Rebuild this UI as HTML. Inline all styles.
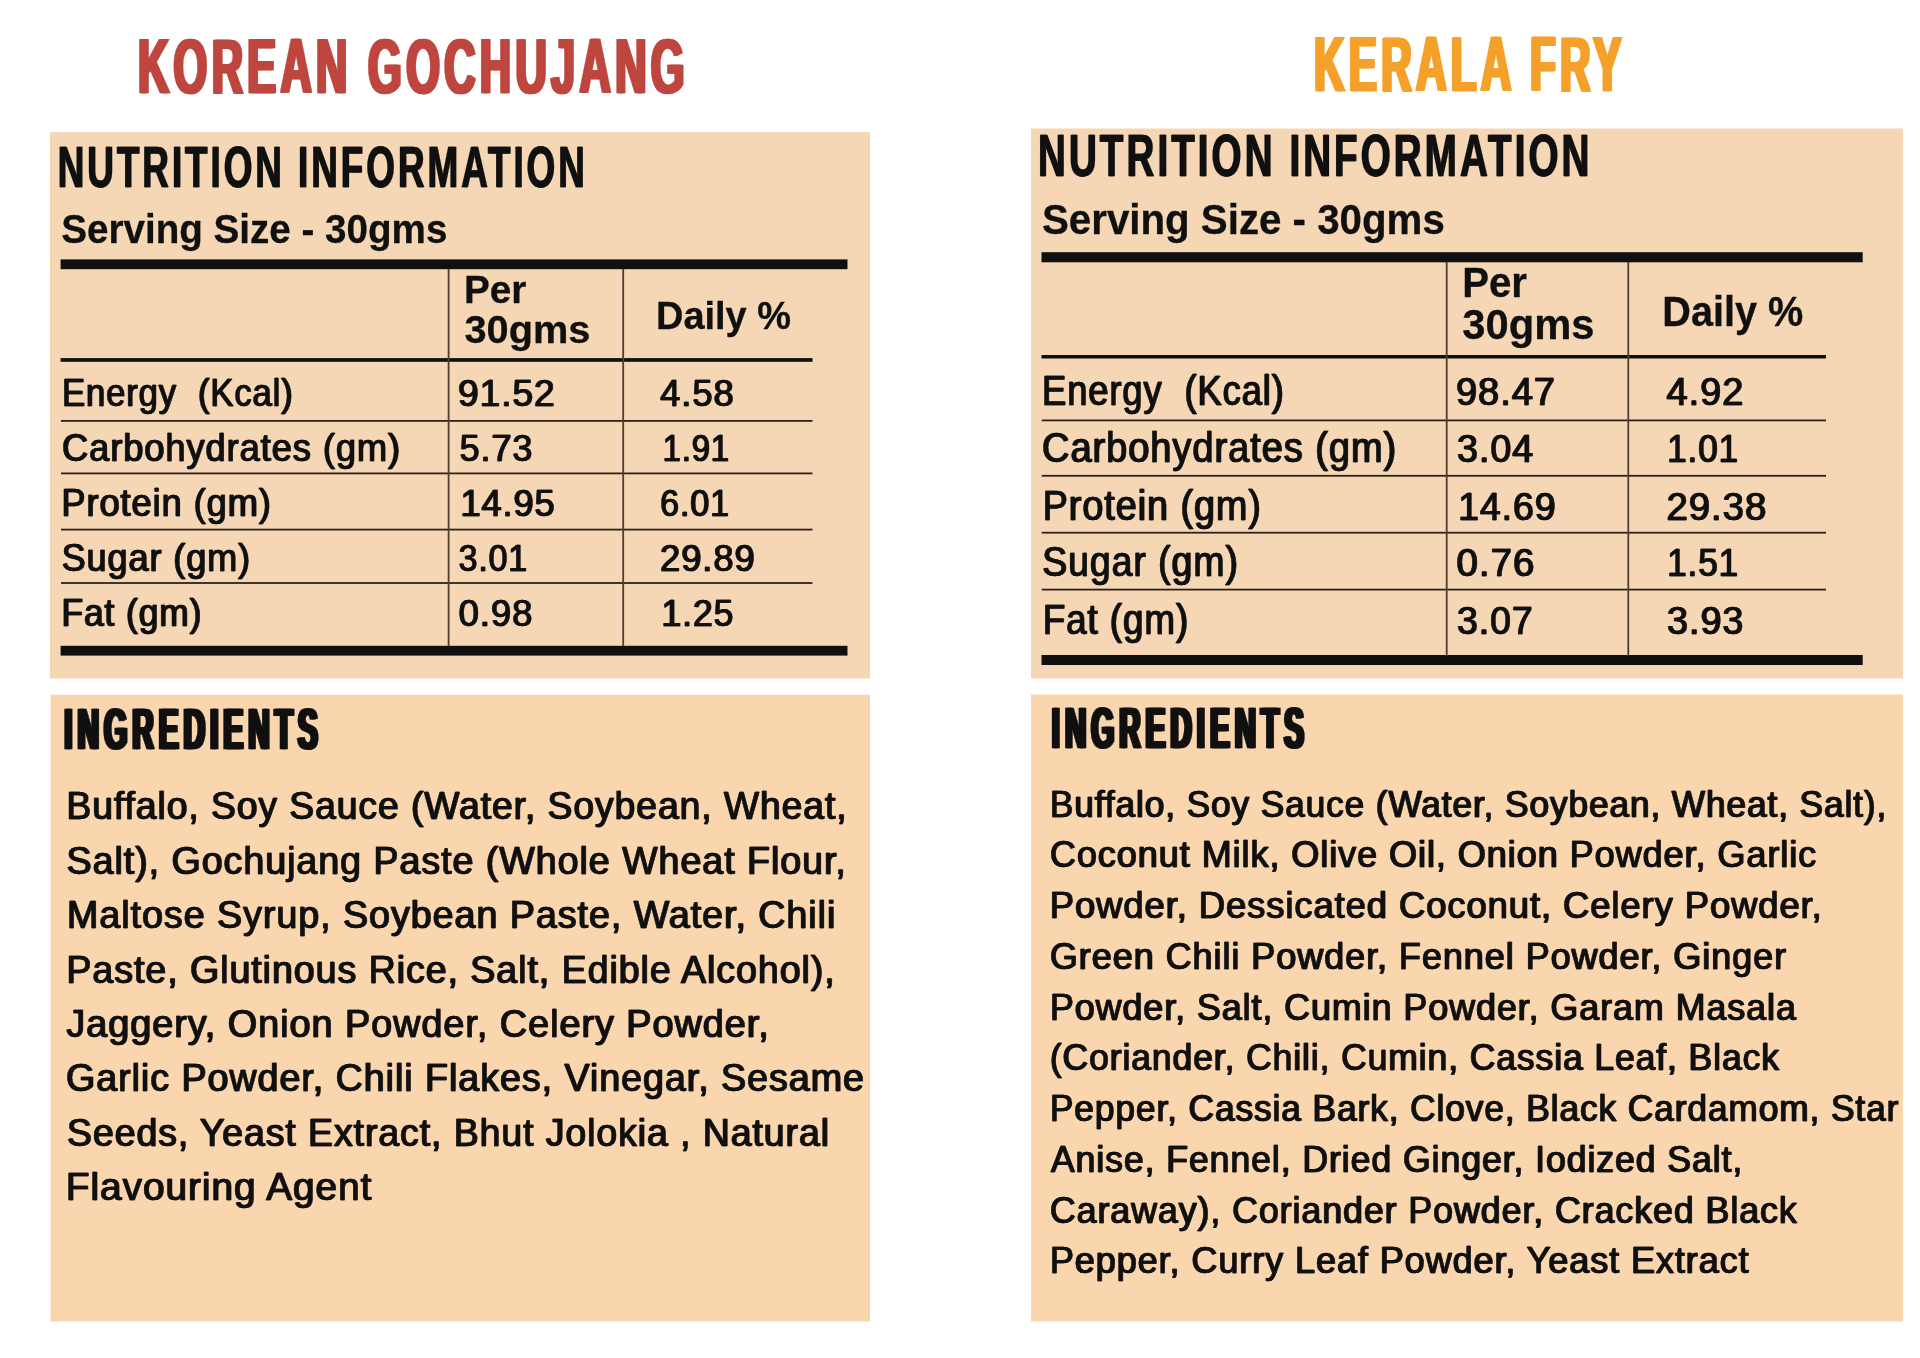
<!DOCTYPE html>
<html><head><meta charset="utf-8"><title>Nutrition</title>
<style>
html,body{margin:0;padding:0;background:#fff;}
body{width:1920px;height:1358px;overflow:hidden;position:relative;}
svg{position:absolute;left:0;top:0;will-change:transform;}
text{font-family:"Liberation Sans",sans-serif;}
</style></head>
<body>
<svg width="1920" height="1358" viewBox="0 0 1920 1358">

<rect x="0" y="0" width="1920" height="1358" fill="#ffffff"/>
<g>
<rect x="50" y="132" width="820" height="546.5" fill="#F5D7B5"/>
<rect x="50.5" y="694.7" width="819.5" height="626.8" fill="#FAD6AF"/>
<rect x="1031" y="128.5" width="872" height="550" fill="#F5D7B5"/>
<rect x="1031" y="694.5" width="872" height="627" fill="#FAD6AF"/>
<rect x="60.6" y="259.4" width="786.9" height="9.8" fill="#111010"/>
<rect x="60.6" y="645.8" width="786.9" height="9.8" fill="#111010"/>
<rect x="60.6" y="358.1" width="751.9" height="3.7" fill="#111010"/>
<rect x="61" y="420.0" width="751.5" height="1.8" fill="#2e231a"/>
<rect x="61" y="472.5" width="751.5" height="1.8" fill="#2e231a"/>
<rect x="61" y="528.7" width="751.5" height="1.8" fill="#2e231a"/>
<rect x="61" y="582.1" width="751.5" height="1.8" fill="#2e231a"/>
<rect x="447.7" y="269" width="1.8" height="377" fill="#4f3d2e"/>
<rect x="622.3" y="269" width="1.8" height="377" fill="#4f3d2e"/>
<rect x="1041.5" y="252.2" width="821.2" height="10.1" fill="#111010"/>
<rect x="1041.5" y="655.0" width="821.2" height="10.0" fill="#111010"/>
<rect x="1041.5" y="355.0" width="784.5" height="3.5" fill="#111010"/>
<rect x="1041.7" y="419.5" width="784.3" height="1.8" fill="#2e231a"/>
<rect x="1041.7" y="474.9" width="784.3" height="1.8" fill="#2e231a"/>
<rect x="1041.7" y="531.8" width="784.3" height="1.8" fill="#2e231a"/>
<rect x="1041.7" y="588.7" width="784.3" height="1.8" fill="#2e231a"/>
<rect x="1445.8" y="262" width="1.8" height="393.5" fill="#4f3d2e"/>
<rect x="1627.4" y="262" width="1.8" height="393.5" fill="#4f3d2e"/>
<text x="136.46" y="92.90" font-size="78.64" textLength="550.87" lengthAdjust="spacingAndGlyphs" font-weight="bold" letter-spacing="7.86" fill="#BE463F" stroke="#BE463F" stroke-width="0.6" stroke-linejoin="round" xml:space="preserve">KOREAN GOCHUJANG</text>
<text x="139.46" y="92.90" font-size="78.64" textLength="550.87" lengthAdjust="spacingAndGlyphs" font-weight="bold" letter-spacing="7.86" fill="#BE463F" stroke="#BE463F" stroke-width="0.6" stroke-linejoin="round" xml:space="preserve">KOREAN GOCHUJANG</text>
<text x="137.96" y="92.90" font-size="78.64" textLength="550.87" lengthAdjust="spacingAndGlyphs" font-weight="bold" letter-spacing="7.86" fill="#BE463F" stroke="#BE463F" stroke-width="0.6" stroke-linejoin="round" xml:space="preserve">KOREAN GOCHUJANG</text>
<text x="1312.53" y="90.50" font-size="77.04" textLength="311.56" lengthAdjust="spacingAndGlyphs" font-weight="bold" letter-spacing="7.70" fill="#F5A02A" stroke="#F5A02A" stroke-width="0.6" stroke-linejoin="round" xml:space="preserve">KERALA FRY</text>
<text x="1315.53" y="90.50" font-size="77.04" textLength="311.56" lengthAdjust="spacingAndGlyphs" font-weight="bold" letter-spacing="7.70" fill="#F5A02A" stroke="#F5A02A" stroke-width="0.6" stroke-linejoin="round" xml:space="preserve">KERALA FRY</text>
<text x="1314.03" y="90.50" font-size="77.04" textLength="311.56" lengthAdjust="spacingAndGlyphs" font-weight="bold" letter-spacing="7.70" fill="#F5A02A" stroke="#F5A02A" stroke-width="0.6" stroke-linejoin="round" xml:space="preserve">KERALA FRY</text>
<text x="57.29" y="186.85" font-size="56.98" textLength="529.99" lengthAdjust="spacingAndGlyphs" font-weight="bold" letter-spacing="4.56" fill="#111010" stroke="#111010" stroke-width="0.3" stroke-linejoin="round" xml:space="preserve">NUTRITION INFORMATION</text>
<text x="58.29" y="186.85" font-size="56.98" textLength="529.99" lengthAdjust="spacingAndGlyphs" font-weight="bold" letter-spacing="4.56" fill="#111010" stroke="#111010" stroke-width="0.3" stroke-linejoin="round" xml:space="preserve">NUTRITION INFORMATION</text>
<text x="1037.49" y="175.85" font-size="59.30" textLength="554.44" lengthAdjust="spacingAndGlyphs" font-weight="bold" letter-spacing="4.74" fill="#111010" stroke="#111010" stroke-width="0.3" stroke-linejoin="round" xml:space="preserve">NUTRITION INFORMATION</text>
<text x="1038.49" y="175.85" font-size="59.30" textLength="554.44" lengthAdjust="spacingAndGlyphs" font-weight="bold" letter-spacing="4.74" fill="#111010" stroke="#111010" stroke-width="0.3" stroke-linejoin="round" xml:space="preserve">NUTRITION INFORMATION</text>
<text x="62.50" y="748.70" font-size="58.14" textLength="258.48" lengthAdjust="spacingAndGlyphs" font-weight="bold" letter-spacing="9.88" fill="#111010" stroke="#111010" stroke-width="0.6" stroke-linejoin="round" xml:space="preserve">INGREDIENTS</text>
<text x="66.10" y="748.70" font-size="58.14" textLength="258.48" lengthAdjust="spacingAndGlyphs" font-weight="bold" letter-spacing="9.88" fill="#111010" stroke="#111010" stroke-width="0.6" stroke-linejoin="round" xml:space="preserve">INGREDIENTS</text>
<text x="64.30" y="748.70" font-size="58.14" textLength="258.48" lengthAdjust="spacingAndGlyphs" font-weight="bold" letter-spacing="9.88" fill="#111010" stroke="#111010" stroke-width="0.6" stroke-linejoin="round" xml:space="preserve">INGREDIENTS</text>
<text x="1049.91" y="747.80" font-size="58.14" textLength="257.14" lengthAdjust="spacingAndGlyphs" font-weight="bold" letter-spacing="9.88" fill="#111010" stroke="#111010" stroke-width="0.6" stroke-linejoin="round" xml:space="preserve">INGREDIENTS</text>
<text x="1053.51" y="747.80" font-size="58.14" textLength="257.14" lengthAdjust="spacingAndGlyphs" font-weight="bold" letter-spacing="9.88" fill="#111010" stroke="#111010" stroke-width="0.6" stroke-linejoin="round" xml:space="preserve">INGREDIENTS</text>
<text x="1051.71" y="747.80" font-size="58.14" textLength="257.14" lengthAdjust="spacingAndGlyphs" font-weight="bold" letter-spacing="9.88" fill="#111010" stroke="#111010" stroke-width="0.6" stroke-linejoin="round" xml:space="preserve">INGREDIENTS</text>
<text x="61.24" y="242.55" font-size="40.41" textLength="386.18" lengthAdjust="spacingAndGlyphs" font-weight="bold" fill="#111010" stroke="#111010" stroke-width="0.3" stroke-linejoin="round" xml:space="preserve">Serving Size - 30gms</text>
<text x="1042.01" y="234.35" font-size="42.73" textLength="402.78" lengthAdjust="spacingAndGlyphs" font-weight="bold" fill="#111010" stroke="#111010" stroke-width="0.3" stroke-linejoin="round" xml:space="preserve">Serving Size - 30gms</text>
<text x="463.98" y="303.05" font-size="39.68" textLength="62.43" lengthAdjust="spacingAndGlyphs" font-weight="bold" fill="#111010" stroke="#111010" stroke-width="0.3" stroke-linejoin="round" xml:space="preserve">Per</text>
<text x="464.53" y="342.85" font-size="39.39" textLength="125.93" lengthAdjust="spacingAndGlyphs" font-weight="bold" fill="#111010" stroke="#111010" stroke-width="0.3" stroke-linejoin="round" xml:space="preserve">30gms</text>
<text x="655.97" y="329.35" font-size="38.81" textLength="135.02" lengthAdjust="spacingAndGlyphs" font-weight="bold" fill="#111010" stroke="#111010" stroke-width="0.3" stroke-linejoin="round" xml:space="preserve">Daily %</text>
<text x="1462.13" y="297.35" font-size="42.01" textLength="64.90" lengthAdjust="spacingAndGlyphs" font-weight="bold" fill="#111010" stroke="#111010" stroke-width="0.3" stroke-linejoin="round" xml:space="preserve">Per</text>
<text x="1462.30" y="338.85" font-size="41.72" textLength="132.24" lengthAdjust="spacingAndGlyphs" font-weight="bold" fill="#111010" stroke="#111010" stroke-width="0.3" stroke-linejoin="round" xml:space="preserve">30gms</text>
<text x="1662.26" y="325.65" font-size="41.72" textLength="141.05" lengthAdjust="spacingAndGlyphs" font-weight="bold" fill="#111010" stroke="#111010" stroke-width="0.3" stroke-linejoin="round" xml:space="preserve">Daily %</text>
<text x="61.57" y="405.95" font-size="38.23" textLength="231.62" lengthAdjust="spacingAndGlyphs" letter-spacing="0.96" fill="#111010" stroke="#111010" stroke-width="0.6" stroke-linejoin="round" xml:space="preserve">Energy  (Kcal)</text>
<text x="62.47" y="405.95" font-size="38.23" textLength="231.62" lengthAdjust="spacingAndGlyphs" letter-spacing="0.96" fill="#111010" stroke="#111010" stroke-width="0.6" stroke-linejoin="round" xml:space="preserve">Energy  (Kcal)</text>
<text x="61.58" y="460.85" font-size="38.23" textLength="339.02" lengthAdjust="spacingAndGlyphs" letter-spacing="0.96" fill="#111010" stroke="#111010" stroke-width="0.6" stroke-linejoin="round" xml:space="preserve">Carbohydrates (gm)</text>
<text x="62.48" y="460.85" font-size="38.23" textLength="339.02" lengthAdjust="spacingAndGlyphs" letter-spacing="0.96" fill="#111010" stroke="#111010" stroke-width="0.6" stroke-linejoin="round" xml:space="preserve">Carbohydrates (gm)</text>
<text x="60.95" y="515.85" font-size="38.23" textLength="210.45" lengthAdjust="spacingAndGlyphs" letter-spacing="0.96" fill="#111010" stroke="#111010" stroke-width="0.6" stroke-linejoin="round" xml:space="preserve">Protein (gm)</text>
<text x="61.85" y="515.85" font-size="38.23" textLength="210.45" lengthAdjust="spacingAndGlyphs" letter-spacing="0.96" fill="#111010" stroke="#111010" stroke-width="0.6" stroke-linejoin="round" xml:space="preserve">Protein (gm)</text>
<text x="61.16" y="571.05" font-size="38.23" textLength="189.43" lengthAdjust="spacingAndGlyphs" letter-spacing="0.96" fill="#111010" stroke="#111010" stroke-width="0.6" stroke-linejoin="round" xml:space="preserve">Sugar (gm)</text>
<text x="62.06" y="571.05" font-size="38.23" textLength="189.43" lengthAdjust="spacingAndGlyphs" letter-spacing="0.96" fill="#111010" stroke="#111010" stroke-width="0.6" stroke-linejoin="round" xml:space="preserve">Sugar (gm)</text>
<text x="61.01" y="625.65" font-size="38.23" textLength="140.93" lengthAdjust="spacingAndGlyphs" letter-spacing="0.96" fill="#111010" stroke="#111010" stroke-width="0.6" stroke-linejoin="round" xml:space="preserve">Fat (gm)</text>
<text x="61.91" y="625.65" font-size="38.23" textLength="140.93" lengthAdjust="spacingAndGlyphs" letter-spacing="0.96" fill="#111010" stroke="#111010" stroke-width="0.6" stroke-linejoin="round" xml:space="preserve">Fat (gm)</text>
<text x="457.56" y="405.95" font-size="37.21" textLength="97.68" lengthAdjust="spacingAndGlyphs" letter-spacing="0.93" fill="#111010" stroke="#111010" stroke-width="0.6" stroke-linejoin="round" xml:space="preserve">91.52</text>
<text x="458.46" y="405.95" font-size="37.21" textLength="97.68" lengthAdjust="spacingAndGlyphs" letter-spacing="0.93" fill="#111010" stroke="#111010" stroke-width="0.6" stroke-linejoin="round" xml:space="preserve">91.52</text>
<text x="659.72" y="405.95" font-size="37.21" textLength="74.47" lengthAdjust="spacingAndGlyphs" letter-spacing="0.93" fill="#111010" stroke="#111010" stroke-width="0.6" stroke-linejoin="round" xml:space="preserve">4.58</text>
<text x="660.62" y="405.95" font-size="37.21" textLength="74.47" lengthAdjust="spacingAndGlyphs" letter-spacing="0.93" fill="#111010" stroke="#111010" stroke-width="0.6" stroke-linejoin="round" xml:space="preserve">4.58</text>
<text x="459.16" y="460.85" font-size="37.21" textLength="73.71" lengthAdjust="spacingAndGlyphs" letter-spacing="0.93" fill="#111010" stroke="#111010" stroke-width="0.6" stroke-linejoin="round" xml:space="preserve">5.73</text>
<text x="460.06" y="460.85" font-size="37.21" textLength="73.71" lengthAdjust="spacingAndGlyphs" letter-spacing="0.93" fill="#111010" stroke="#111010" stroke-width="0.6" stroke-linejoin="round" xml:space="preserve">5.73</text>
<text x="662.21" y="460.85" font-size="37.21" textLength="67.28" lengthAdjust="spacingAndGlyphs" letter-spacing="0.93" fill="#111010" stroke="#111010" stroke-width="0.6" stroke-linejoin="round" xml:space="preserve">1.91</text>
<text x="663.11" y="460.85" font-size="37.21" textLength="67.28" lengthAdjust="spacingAndGlyphs" letter-spacing="0.93" fill="#111010" stroke="#111010" stroke-width="0.6" stroke-linejoin="round" xml:space="preserve">1.91</text>
<text x="460.03" y="515.85" font-size="37.21" textLength="95.15" lengthAdjust="spacingAndGlyphs" letter-spacing="0.93" fill="#111010" stroke="#111010" stroke-width="0.6" stroke-linejoin="round" xml:space="preserve">14.95</text>
<text x="460.93" y="515.85" font-size="37.21" textLength="95.15" lengthAdjust="spacingAndGlyphs" letter-spacing="0.93" fill="#111010" stroke="#111010" stroke-width="0.6" stroke-linejoin="round" xml:space="preserve">14.95</text>
<text x="659.67" y="515.85" font-size="37.21" textLength="69.89" lengthAdjust="spacingAndGlyphs" letter-spacing="0.93" fill="#111010" stroke="#111010" stroke-width="0.6" stroke-linejoin="round" xml:space="preserve">6.01</text>
<text x="660.57" y="515.85" font-size="37.21" textLength="69.89" lengthAdjust="spacingAndGlyphs" letter-spacing="0.93" fill="#111010" stroke="#111010" stroke-width="0.6" stroke-linejoin="round" xml:space="preserve">6.01</text>
<text x="458.21" y="571.05" font-size="37.21" textLength="69.33" lengthAdjust="spacingAndGlyphs" letter-spacing="0.93" fill="#111010" stroke="#111010" stroke-width="0.6" stroke-linejoin="round" xml:space="preserve">3.01</text>
<text x="459.11" y="571.05" font-size="37.21" textLength="69.33" lengthAdjust="spacingAndGlyphs" letter-spacing="0.93" fill="#111010" stroke="#111010" stroke-width="0.6" stroke-linejoin="round" xml:space="preserve">3.01</text>
<text x="659.59" y="571.05" font-size="37.21" textLength="95.60" lengthAdjust="spacingAndGlyphs" letter-spacing="0.93" fill="#111010" stroke="#111010" stroke-width="0.6" stroke-linejoin="round" xml:space="preserve">29.89</text>
<text x="660.49" y="571.05" font-size="37.21" textLength="95.60" lengthAdjust="spacingAndGlyphs" letter-spacing="0.93" fill="#111010" stroke="#111010" stroke-width="0.6" stroke-linejoin="round" xml:space="preserve">29.89</text>
<text x="458.15" y="625.65" font-size="37.21" textLength="74.75" lengthAdjust="spacingAndGlyphs" letter-spacing="0.93" fill="#111010" stroke="#111010" stroke-width="0.6" stroke-linejoin="round" xml:space="preserve">0.98</text>
<text x="459.05" y="625.65" font-size="37.21" textLength="74.75" lengthAdjust="spacingAndGlyphs" letter-spacing="0.93" fill="#111010" stroke="#111010" stroke-width="0.6" stroke-linejoin="round" xml:space="preserve">0.98</text>
<text x="661.06" y="625.65" font-size="37.21" textLength="72.78" lengthAdjust="spacingAndGlyphs" letter-spacing="0.93" fill="#111010" stroke="#111010" stroke-width="0.6" stroke-linejoin="round" xml:space="preserve">1.25</text>
<text x="661.96" y="625.65" font-size="37.21" textLength="72.78" lengthAdjust="spacingAndGlyphs" letter-spacing="0.93" fill="#111010" stroke="#111010" stroke-width="0.6" stroke-linejoin="round" xml:space="preserve">1.25</text>
<text x="1041.62" y="404.55" font-size="41.86" textLength="242.70" lengthAdjust="spacingAndGlyphs" letter-spacing="1.05" fill="#111010" stroke="#111010" stroke-width="0.6" stroke-linejoin="round" xml:space="preserve">Energy  (Kcal)</text>
<text x="1042.52" y="404.55" font-size="41.86" textLength="242.70" lengthAdjust="spacingAndGlyphs" letter-spacing="1.05" fill="#111010" stroke="#111010" stroke-width="0.6" stroke-linejoin="round" xml:space="preserve">Energy  (Kcal)</text>
<text x="1041.59" y="461.85" font-size="41.86" textLength="355.16" lengthAdjust="spacingAndGlyphs" letter-spacing="1.05" fill="#111010" stroke="#111010" stroke-width="0.6" stroke-linejoin="round" xml:space="preserve">Carbohydrates (gm)</text>
<text x="1042.49" y="461.85" font-size="41.86" textLength="355.16" lengthAdjust="spacingAndGlyphs" letter-spacing="1.05" fill="#111010" stroke="#111010" stroke-width="0.6" stroke-linejoin="round" xml:space="preserve">Carbohydrates (gm)</text>
<text x="1042.22" y="519.55" font-size="41.86" textLength="219.21" lengthAdjust="spacingAndGlyphs" letter-spacing="1.05" fill="#111010" stroke="#111010" stroke-width="0.6" stroke-linejoin="round" xml:space="preserve">Protein (gm)</text>
<text x="1043.12" y="519.55" font-size="41.86" textLength="219.21" lengthAdjust="spacingAndGlyphs" letter-spacing="1.05" fill="#111010" stroke="#111010" stroke-width="0.6" stroke-linejoin="round" xml:space="preserve">Protein (gm)</text>
<text x="1041.80" y="576.05" font-size="41.86" textLength="196.61" lengthAdjust="spacingAndGlyphs" letter-spacing="1.05" fill="#111010" stroke="#111010" stroke-width="0.6" stroke-linejoin="round" xml:space="preserve">Sugar (gm)</text>
<text x="1042.70" y="576.05" font-size="41.86" textLength="196.61" lengthAdjust="spacingAndGlyphs" letter-spacing="1.05" fill="#111010" stroke="#111010" stroke-width="0.6" stroke-linejoin="round" xml:space="preserve">Sugar (gm)</text>
<text x="1042.29" y="633.55" font-size="41.86" textLength="146.37" lengthAdjust="spacingAndGlyphs" letter-spacing="1.05" fill="#111010" stroke="#111010" stroke-width="0.6" stroke-linejoin="round" xml:space="preserve">Fat (gm)</text>
<text x="1043.19" y="633.55" font-size="41.86" textLength="146.37" lengthAdjust="spacingAndGlyphs" letter-spacing="1.05" fill="#111010" stroke="#111010" stroke-width="0.6" stroke-linejoin="round" xml:space="preserve">Fat (gm)</text>
<text x="1455.51" y="404.55" font-size="39.24" textLength="100.00" lengthAdjust="spacingAndGlyphs" letter-spacing="0.98" fill="#111010" stroke="#111010" stroke-width="0.6" stroke-linejoin="round" xml:space="preserve">98.47</text>
<text x="1456.41" y="404.55" font-size="39.24" textLength="100.00" lengthAdjust="spacingAndGlyphs" letter-spacing="0.98" fill="#111010" stroke="#111010" stroke-width="0.6" stroke-linejoin="round" xml:space="preserve">98.47</text>
<text x="1666.10" y="404.55" font-size="39.24" textLength="77.80" lengthAdjust="spacingAndGlyphs" letter-spacing="0.98" fill="#111010" stroke="#111010" stroke-width="0.6" stroke-linejoin="round" xml:space="preserve">4.92</text>
<text x="1667.00" y="404.55" font-size="39.24" textLength="77.80" lengthAdjust="spacingAndGlyphs" letter-spacing="0.98" fill="#111010" stroke="#111010" stroke-width="0.6" stroke-linejoin="round" xml:space="preserve">4.92</text>
<text x="1456.61" y="461.85" font-size="39.24" textLength="77.08" lengthAdjust="spacingAndGlyphs" letter-spacing="0.98" fill="#111010" stroke="#111010" stroke-width="0.6" stroke-linejoin="round" xml:space="preserve">3.04</text>
<text x="1457.51" y="461.85" font-size="39.24" textLength="77.08" lengthAdjust="spacingAndGlyphs" letter-spacing="0.98" fill="#111010" stroke="#111010" stroke-width="0.6" stroke-linejoin="round" xml:space="preserve">3.04</text>
<text x="1666.67" y="461.85" font-size="39.24" textLength="71.96" lengthAdjust="spacingAndGlyphs" letter-spacing="0.98" fill="#111010" stroke="#111010" stroke-width="0.6" stroke-linejoin="round" xml:space="preserve">1.01</text>
<text x="1667.57" y="461.85" font-size="39.24" textLength="71.96" lengthAdjust="spacingAndGlyphs" letter-spacing="0.98" fill="#111010" stroke="#111010" stroke-width="0.6" stroke-linejoin="round" xml:space="preserve">1.01</text>
<text x="1457.64" y="519.55" font-size="39.24" textLength="98.53" lengthAdjust="spacingAndGlyphs" letter-spacing="0.98" fill="#111010" stroke="#111010" stroke-width="0.6" stroke-linejoin="round" xml:space="preserve">14.69</text>
<text x="1458.54" y="519.55" font-size="39.24" textLength="98.53" lengthAdjust="spacingAndGlyphs" letter-spacing="0.98" fill="#111010" stroke="#111010" stroke-width="0.6" stroke-linejoin="round" xml:space="preserve">14.69</text>
<text x="1665.99" y="519.55" font-size="39.24" textLength="100.83" lengthAdjust="spacingAndGlyphs" letter-spacing="0.98" fill="#111010" stroke="#111010" stroke-width="0.6" stroke-linejoin="round" xml:space="preserve">29.38</text>
<text x="1666.89" y="519.55" font-size="39.24" textLength="100.83" lengthAdjust="spacingAndGlyphs" letter-spacing="0.98" fill="#111010" stroke="#111010" stroke-width="0.6" stroke-linejoin="round" xml:space="preserve">29.38</text>
<text x="1456.09" y="576.05" font-size="39.24" textLength="78.84" lengthAdjust="spacingAndGlyphs" letter-spacing="0.98" fill="#111010" stroke="#111010" stroke-width="0.6" stroke-linejoin="round" xml:space="preserve">0.76</text>
<text x="1456.99" y="576.05" font-size="39.24" textLength="78.84" lengthAdjust="spacingAndGlyphs" letter-spacing="0.98" fill="#111010" stroke="#111010" stroke-width="0.6" stroke-linejoin="round" xml:space="preserve">0.76</text>
<text x="1666.67" y="576.05" font-size="39.24" textLength="71.96" lengthAdjust="spacingAndGlyphs" letter-spacing="0.98" fill="#111010" stroke="#111010" stroke-width="0.6" stroke-linejoin="round" xml:space="preserve">1.51</text>
<text x="1667.57" y="576.05" font-size="39.24" textLength="71.96" lengthAdjust="spacingAndGlyphs" letter-spacing="0.98" fill="#111010" stroke="#111010" stroke-width="0.6" stroke-linejoin="round" xml:space="preserve">1.51</text>
<text x="1456.62" y="633.55" font-size="39.24" textLength="76.55" lengthAdjust="spacingAndGlyphs" letter-spacing="0.98" fill="#111010" stroke="#111010" stroke-width="0.6" stroke-linejoin="round" xml:space="preserve">3.07</text>
<text x="1457.52" y="633.55" font-size="39.24" textLength="76.55" lengthAdjust="spacingAndGlyphs" letter-spacing="0.98" fill="#111010" stroke="#111010" stroke-width="0.6" stroke-linejoin="round" xml:space="preserve">3.07</text>
<text x="1666.61" y="633.55" font-size="39.24" textLength="77.28" lengthAdjust="spacingAndGlyphs" letter-spacing="0.98" fill="#111010" stroke="#111010" stroke-width="0.6" stroke-linejoin="round" xml:space="preserve">3.93</text>
<text x="1667.51" y="633.55" font-size="39.24" textLength="77.28" lengthAdjust="spacingAndGlyphs" letter-spacing="0.98" fill="#111010" stroke="#111010" stroke-width="0.6" stroke-linejoin="round" xml:space="preserve">3.93</text>
<text x="65.97" y="819.25" font-size="39.10" textLength="781.16" lengthAdjust="spacingAndGlyphs" letter-spacing="0.98" fill="#111010" stroke="#111010" stroke-width="0.6" stroke-linejoin="round" xml:space="preserve">Buffalo, Soy Sauce (Water, Soybean, Wheat,</text>
<text x="66.87" y="819.25" font-size="39.10" textLength="781.16" lengthAdjust="spacingAndGlyphs" letter-spacing="0.98" fill="#111010" stroke="#111010" stroke-width="0.6" stroke-linejoin="round" xml:space="preserve">Buffalo, Soy Sauce (Water, Soybean, Wheat,</text>
<text x="66.11" y="873.69" font-size="39.10" textLength="780.25" lengthAdjust="spacingAndGlyphs" letter-spacing="0.98" fill="#111010" stroke="#111010" stroke-width="0.6" stroke-linejoin="round" xml:space="preserve">Salt), Gochujang Paste (Whole Wheat Flour,</text>
<text x="67.01" y="873.69" font-size="39.10" textLength="780.25" lengthAdjust="spacingAndGlyphs" letter-spacing="0.98" fill="#111010" stroke="#111010" stroke-width="0.6" stroke-linejoin="round" xml:space="preserve">Salt), Gochujang Paste (Whole Wheat Flour,</text>
<text x="66.59" y="928.13" font-size="39.10" textLength="769.24" lengthAdjust="spacingAndGlyphs" letter-spacing="0.98" fill="#111010" stroke="#111010" stroke-width="0.6" stroke-linejoin="round" xml:space="preserve">Maltose Syrup, Soybean Paste, Water, Chili</text>
<text x="67.49" y="928.13" font-size="39.10" textLength="769.24" lengthAdjust="spacingAndGlyphs" letter-spacing="0.98" fill="#111010" stroke="#111010" stroke-width="0.6" stroke-linejoin="round" xml:space="preserve">Maltose Syrup, Soybean Paste, Water, Chili</text>
<text x="65.96" y="982.57" font-size="39.10" textLength="769.29" lengthAdjust="spacingAndGlyphs" letter-spacing="0.98" fill="#111010" stroke="#111010" stroke-width="0.6" stroke-linejoin="round" xml:space="preserve">Paste, Glutinous Rice, Salt, Edible Alcohol),</text>
<text x="66.86" y="982.57" font-size="39.10" textLength="769.29" lengthAdjust="spacingAndGlyphs" letter-spacing="0.98" fill="#111010" stroke="#111010" stroke-width="0.6" stroke-linejoin="round" xml:space="preserve">Paste, Glutinous Rice, Salt, Edible Alcohol),</text>
<text x="65.90" y="1037.01" font-size="39.10" textLength="703.38" lengthAdjust="spacingAndGlyphs" letter-spacing="0.98" fill="#111010" stroke="#111010" stroke-width="0.6" stroke-linejoin="round" xml:space="preserve">Jaggery, Onion Powder, Celery Powder,</text>
<text x="66.80" y="1037.01" font-size="39.10" textLength="703.38" lengthAdjust="spacingAndGlyphs" letter-spacing="0.98" fill="#111010" stroke="#111010" stroke-width="0.6" stroke-linejoin="round" xml:space="preserve">Jaggery, Onion Powder, Celery Powder,</text>
<text x="65.52" y="1091.45" font-size="39.10" textLength="798.96" lengthAdjust="spacingAndGlyphs" letter-spacing="0.98" fill="#111010" stroke="#111010" stroke-width="0.6" stroke-linejoin="round" xml:space="preserve">Garlic Powder, Chili Flakes, Vinegar, Sesame</text>
<text x="66.42" y="1091.45" font-size="39.10" textLength="798.96" lengthAdjust="spacingAndGlyphs" letter-spacing="0.98" fill="#111010" stroke="#111010" stroke-width="0.6" stroke-linejoin="round" xml:space="preserve">Garlic Powder, Chili Flakes, Vinegar, Sesame</text>
<text x="66.62" y="1145.89" font-size="39.10" textLength="762.89" lengthAdjust="spacingAndGlyphs" letter-spacing="0.98" fill="#111010" stroke="#111010" stroke-width="0.6" stroke-linejoin="round" xml:space="preserve">Seeds, Yeast Extract, Bhut Jolokia , Natural</text>
<text x="67.52" y="1145.89" font-size="39.10" textLength="762.89" lengthAdjust="spacingAndGlyphs" letter-spacing="0.98" fill="#111010" stroke="#111010" stroke-width="0.6" stroke-linejoin="round" xml:space="preserve">Seeds, Yeast Extract, Bhut Jolokia , Natural</text>
<text x="65.39" y="1200.33" font-size="39.10" textLength="306.55" lengthAdjust="spacingAndGlyphs" letter-spacing="0.98" fill="#111010" stroke="#111010" stroke-width="0.6" stroke-linejoin="round" xml:space="preserve">Flavouring Agent</text>
<text x="66.29" y="1200.33" font-size="39.10" textLength="306.55" lengthAdjust="spacingAndGlyphs" letter-spacing="0.98" fill="#111010" stroke="#111010" stroke-width="0.6" stroke-linejoin="round" xml:space="preserve">Flavouring Agent</text>
<text x="1049.43" y="816.65" font-size="36.77" textLength="837.30" lengthAdjust="spacingAndGlyphs" letter-spacing="0.92" fill="#111010" stroke="#111010" stroke-width="0.6" stroke-linejoin="round" xml:space="preserve">Buffalo, Soy Sauce (Water, Soybean, Wheat, Salt),</text>
<text x="1050.33" y="816.65" font-size="36.77" textLength="837.30" lengthAdjust="spacingAndGlyphs" letter-spacing="0.92" fill="#111010" stroke="#111010" stroke-width="0.6" stroke-linejoin="round" xml:space="preserve">Buffalo, Soy Sauce (Water, Soybean, Wheat, Salt),</text>
<text x="1049.40" y="867.41" font-size="36.77" textLength="767.27" lengthAdjust="spacingAndGlyphs" letter-spacing="0.92" fill="#111010" stroke="#111010" stroke-width="0.6" stroke-linejoin="round" xml:space="preserve">Coconut Milk, Olive Oil, Onion Powder, Garlic</text>
<text x="1050.30" y="867.41" font-size="36.77" textLength="767.27" lengthAdjust="spacingAndGlyphs" letter-spacing="0.92" fill="#111010" stroke="#111010" stroke-width="0.6" stroke-linejoin="round" xml:space="preserve">Coconut Milk, Olive Oil, Onion Powder, Garlic</text>
<text x="1049.35" y="918.17" font-size="36.77" textLength="772.88" lengthAdjust="spacingAndGlyphs" letter-spacing="0.92" fill="#111010" stroke="#111010" stroke-width="0.6" stroke-linejoin="round" xml:space="preserve">Powder, Dessicated Coconut, Celery Powder,</text>
<text x="1050.25" y="918.17" font-size="36.77" textLength="772.88" lengthAdjust="spacingAndGlyphs" letter-spacing="0.92" fill="#111010" stroke="#111010" stroke-width="0.6" stroke-linejoin="round" xml:space="preserve">Powder, Dessicated Coconut, Celery Powder,</text>
<text x="1049.40" y="968.93" font-size="36.77" textLength="737.18" lengthAdjust="spacingAndGlyphs" letter-spacing="0.92" fill="#111010" stroke="#111010" stroke-width="0.6" stroke-linejoin="round" xml:space="preserve">Green Chili Powder, Fennel Powder, Ginger</text>
<text x="1050.30" y="968.93" font-size="36.77" textLength="737.18" lengthAdjust="spacingAndGlyphs" letter-spacing="0.92" fill="#111010" stroke="#111010" stroke-width="0.6" stroke-linejoin="round" xml:space="preserve">Green Chili Powder, Fennel Powder, Ginger</text>
<text x="1049.39" y="1019.69" font-size="36.77" textLength="746.99" lengthAdjust="spacingAndGlyphs" letter-spacing="0.92" fill="#111010" stroke="#111010" stroke-width="0.6" stroke-linejoin="round" xml:space="preserve">Powder, Salt, Cumin Powder, Garam Masala</text>
<text x="1050.29" y="1019.69" font-size="36.77" textLength="746.99" lengthAdjust="spacingAndGlyphs" letter-spacing="0.92" fill="#111010" stroke="#111010" stroke-width="0.6" stroke-linejoin="round" xml:space="preserve">Powder, Salt, Cumin Powder, Garam Masala</text>
<text x="1049.42" y="1070.45" font-size="36.77" textLength="730.02" lengthAdjust="spacingAndGlyphs" letter-spacing="0.92" fill="#111010" stroke="#111010" stroke-width="0.6" stroke-linejoin="round" xml:space="preserve">(Coriander, Chili, Cumin, Cassia Leaf, Black</text>
<text x="1050.32" y="1070.45" font-size="36.77" textLength="730.02" lengthAdjust="spacingAndGlyphs" letter-spacing="0.92" fill="#111010" stroke="#111010" stroke-width="0.6" stroke-linejoin="round" xml:space="preserve">(Coriander, Chili, Cumin, Cassia Leaf, Black</text>
<text x="1049.43" y="1121.21" font-size="36.77" textLength="849.44" lengthAdjust="spacingAndGlyphs" letter-spacing="0.92" fill="#111010" stroke="#111010" stroke-width="0.6" stroke-linejoin="round" xml:space="preserve">Pepper, Cassia Bark, Clove, Black Cardamom, Star</text>
<text x="1050.33" y="1121.21" font-size="36.77" textLength="849.44" lengthAdjust="spacingAndGlyphs" letter-spacing="0.92" fill="#111010" stroke="#111010" stroke-width="0.6" stroke-linejoin="round" xml:space="preserve">Pepper, Cassia Bark, Clove, Black Cardamom, Star</text>
<text x="1050.39" y="1171.97" font-size="36.77" textLength="692.38" lengthAdjust="spacingAndGlyphs" letter-spacing="0.92" fill="#111010" stroke="#111010" stroke-width="0.6" stroke-linejoin="round" xml:space="preserve">Anise, Fennel, Dried Ginger, Iodized Salt,</text>
<text x="1051.29" y="1171.97" font-size="36.77" textLength="692.38" lengthAdjust="spacingAndGlyphs" letter-spacing="0.92" fill="#111010" stroke="#111010" stroke-width="0.6" stroke-linejoin="round" xml:space="preserve">Anise, Fennel, Dried Ginger, Iodized Salt,</text>
<text x="1049.41" y="1222.73" font-size="36.77" textLength="747.83" lengthAdjust="spacingAndGlyphs" letter-spacing="0.92" fill="#111010" stroke="#111010" stroke-width="0.6" stroke-linejoin="round" xml:space="preserve">Caraway), Coriander Powder, Cracked Black</text>
<text x="1050.31" y="1222.73" font-size="36.77" textLength="747.83" lengthAdjust="spacingAndGlyphs" letter-spacing="0.92" fill="#111010" stroke="#111010" stroke-width="0.6" stroke-linejoin="round" xml:space="preserve">Caraway), Coriander Powder, Cracked Black</text>
<text x="1049.38" y="1273.49" font-size="36.77" textLength="699.70" lengthAdjust="spacingAndGlyphs" letter-spacing="0.92" fill="#111010" stroke="#111010" stroke-width="0.6" stroke-linejoin="round" xml:space="preserve">Pepper, Curry Leaf Powder, Yeast Extract</text>
<text x="1050.28" y="1273.49" font-size="36.77" textLength="699.70" lengthAdjust="spacingAndGlyphs" letter-spacing="0.92" fill="#111010" stroke="#111010" stroke-width="0.6" stroke-linejoin="round" xml:space="preserve">Pepper, Curry Leaf Powder, Yeast Extract</text>
</g>
</svg>
</body></html>
